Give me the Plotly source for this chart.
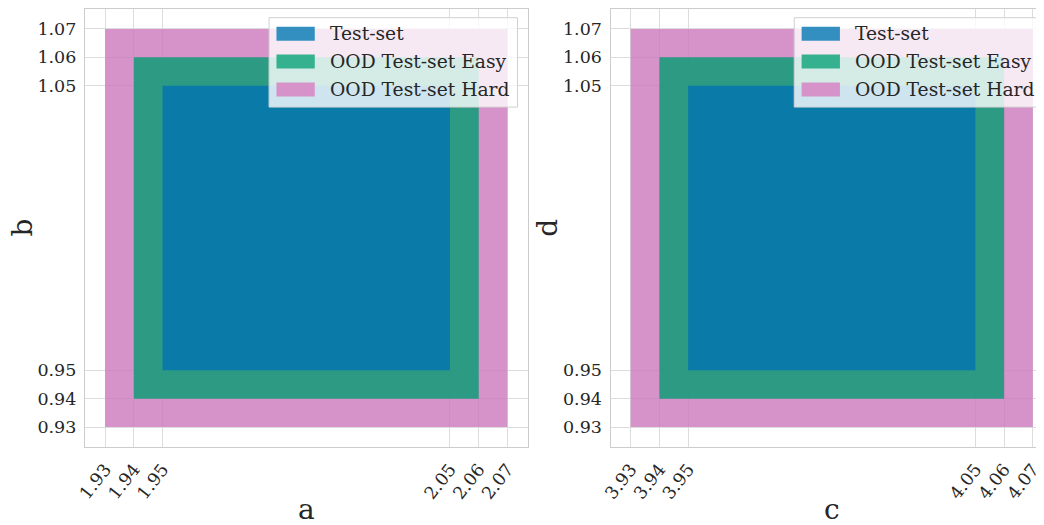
import plotly.graph_objects as go

# ---- data ----
set_names = ["Test-set", "OOD Test-set Easy", "OOD Test-set Hard"]
a_low = [1.95, 1.94, 1.93]
a_high = [2.05, 2.06, 2.07]
b_low = [0.95, 0.94, 0.93]
b_high = [1.05, 1.06, 1.07]
c_low = [3.95, 3.94, 3.93]
c_high = [4.05, 4.06, 4.07]
d_low = [0.95, 0.94, 0.93]
d_high = [1.05, 1.06, 1.07]
axis_names = ["a", "b", "c", "d"]

base_colors = [(1, 115, 178), (2, 158, 115), (204, 120, 188)]
ALPHA = 0.8
FONT = "DejaVu Serif"
TXT = "#262626"

# page has an 8px body margin; all layout positions below are given in page pixels
OFF = 8
W, H = 1044 - OFF, 525 - OFF
PLOT_L, PLOT_T, PLOT_B = 85.3, 8.6, 446.7          # page px
ML = PLOT_L - OFF
MT = PLOT_T - OFF
MB = H - (PLOT_B - OFF)
MR = 0
PW, PH = W - ML - MR, H - MT - MB


def rgba(c, a):
    return f"rgba({c[0]},{c[1]},{c[2]},{a})"


def blend(c, a):
    return "#%02x%02x%02x" % tuple(int(round(a * v + (1 - a) * 255)) for v in c)


def px_x(p):
    return (p - OFF - ML) / PW


def px_y(p):
    return (PLOT_B - p) / PH


fig = go.Figure()

panels = [
    ("x", "y", a_low, a_high, b_low, b_high),
    ("x2", "y2", c_low, c_high, d_low, d_high),
]
for xa, ya, xl, xh, yl, yh in panels:
    # largest region first so the test-set sits on top
    for i in reversed(range(len(set_names))):
        fig.add_trace(go.Scatter(
            x=[xl[i], xh[i], xh[i], xl[i], xl[i]],
            y=[yl[i], yl[i], yh[i], yh[i], yl[i]],
            mode="lines", fill="toself",
            fillcolor=rgba(base_colors[i], ALPHA),
            line=dict(width=0), name=set_names[i],
            showlegend=False, hoverinfo="name",
            xaxis=xa, yaxis=ya,
        ))


def fmt(v):
    return f"{v:.2f}"


def axis_common(vals):
    vals = sorted(vals)
    return dict(
        tickmode="array", tickvals=vals, ticktext=[fmt(v) for v in vals],
        showgrid=True, gridcolor="#dcdcdc", gridwidth=1,
        zeroline=False, showline=True, linecolor="#cccccc", linewidth=1.2,
        ticks="", tickfont=dict(family=FONT, size=17.5, color=TXT),
        ticklabelstandoff=4,
    )


x1_dom = [0, px_x(527.7)]
x2_dom = [px_x(610.7), 1]
TICK_ANGLE = -52

fig.update_layout(
    width=W, height=H,
    margin=dict(l=ML, r=MR, t=MT, b=MB, pad=0, autoexpand=False),
    paper_bgcolor="white", plot_bgcolor="white",
    showlegend=False,
    xaxis=dict(axis_common(a_low + a_high), domain=x1_dom, range=[1.923, 2.077],
               tickangle=TICK_ANGLE, mirror=True, anchor="y"),
    yaxis=dict(axis_common(b_low + b_high), domain=[0, 1], range=[0.923, 1.077],
               mirror=True, anchor="x"),
    xaxis2=dict(axis_common(c_low + c_high), domain=x2_dom, range=[3.923, 4.0739],
                tickangle=TICK_ANGLE, mirror=True, anchor="y2"),
    yaxis2=dict(axis_common(d_low + d_high), domain=[0, 1], range=[0.923, 1.077],
                mirror=False, anchor="x2"),
)

shapes = []
annotations = []

# ---- axis titles ----
title_font = dict(family=FONT, size=28, color=TXT)
for name, cx in [(axis_names[0], 306.5), (axis_names[2], 831.7)]:
    annotations.append(dict(xref="paper", yref="paper", x=px_x(cx), y=px_y(509),
                            xanchor="center", yanchor="middle", showarrow=False,
                            text=name, font=title_font))
for name, cx in [(axis_names[1], 23.0), (axis_names[3], 548.0)]:
    annotations.append(dict(xref="paper", yref="paper", x=px_x(cx), y=px_y(227.5),
                            xanchor="center", yanchor="middle", showarrow=False,
                            textangle=-90, text=name, font=title_font))

# ---- legends (one per panel): box + patches + text ----
row_centers = [33.3, 61.0, 89.0]
for dx in [0, 525]:
    shapes.append(dict(
        type="rect", xref="paper", yref="paper", layer="above",
        x0=px_x(269.3 + dx), x1=px_x(517.7 + dx),
        y0=px_y(106.7), y1=px_y(17.3),
        fillcolor="rgba(255,255,255,0.8)",
        line=dict(color="#d0d0d0", width=1),
    ))
    for i, name in enumerate(set_names):
        cy = row_centers[i]
        shapes.append(dict(
            type="rect", xref="paper", yref="paper", layer="above",
            x0=px_x(276.7 + dx), x1=px_x(315.0 + dx),
            y0=px_y(cy + 7), y1=px_y(cy - 7),
            fillcolor=blend(base_colors[i], ALPHA), line=dict(width=0),
        ))
        annotations.append(dict(
            xref="paper", yref="paper", x=px_x(328 + dx), y=px_y(cy),
            xanchor="left", yanchor="middle", showarrow=False,
            text=name, font=dict(family=FONT, size=18.7, color=TXT),
        ))

fig.update_layout(shapes=shapes, annotations=annotations)

fig.write_html("out.html")
